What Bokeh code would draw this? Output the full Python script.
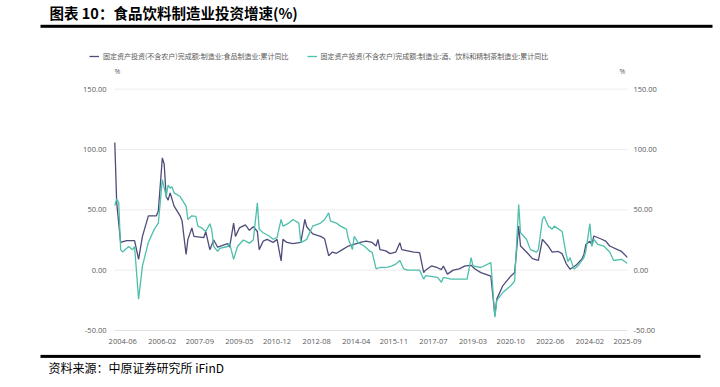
from datetime import datetime
from bokeh.plotting import figure
from bokeh.models import (Range1d, LinearAxis, NumeralTickFormatter, FixedTicker, Title,
                          DatetimeTickFormatter, Label, Legend, LegendItem, ColorBar,
                          LinearColorMapper)
from bokeh.embed import file_html
from bokeh.resources import INLINE

TITLE = "图表 10：食品饮料制造业投资增速(%)"
SOURCE = "资料来源：中原证券研究所 iFinD"
NAME_FOOD = "固定资产投资(不含农户)完成额:制造业:食品制造业:累计同比"
NAME_DRINK = "固定资产投资(不含农户)完成额:制造业:酒、饮料和精制茶制造业:累计同比"
UNIT = "%"

tick_labels = ["2004-06", "2006-02", "2007-09", "2009-05", "2010-12", "2012-08", "2014-04",
               "2015-11", "2017-07", "2019-03", "2020-10", "2022-06", "2024-02", "2025-09"]
y_ticks = [-50, 0, 50, 100, 150]

food_dates = ["2004-02", "2004-03", "2004-05", "2004-08", "2004-12", "2005-02", "2005-04", "2005-07",
              "2005-11", "2005-12", "2006-02", "2006-03", "2006-04", "2006-05", "2006-06", "2006-08",
              "2006-11", "2006-12", "2007-02", "2007-03", "2007-05", "2007-06", "2007-11", "2007-12",
              "2008-02", "2008-04", "2008-06", "2008-11", "2008-12", "2009-02", "2009-03", "2009-05",
              "2009-08", "2009-10", "2009-12", "2010-02", "2010-03", "2010-05", "2010-07", "2010-10",
              "2010-12", "2011-02", "2011-03", "2011-05", "2011-08", "2011-12", "2012-02", "2012-03",
              "2012-06", "2012-10", "2012-12", "2013-02", "2013-04", "2013-06", "2013-09", "2013-12",
              "2014-06", "2014-09", "2014-12", "2015-02", "2015-03", "2015-04", "2015-07", "2015-09",
              "2015-12", "2016-02", "2016-03", "2016-06", "2016-09", "2016-12", "2017-02", "2017-03",
              "2017-06", "2017-09", "2017-11", "2017-12", "2018-02", "2018-05", "2018-08", "2018-11",
              "2019-02", "2019-04", "2019-07", "2019-12", "2020-02", "2020-03", "2020-06", "2020-10",
              "2020-12", "2021-02", "2021-03", "2021-06", "2021-09", "2021-12", "2022-02", "2022-05",
              "2022-07", "2022-10", "2022-12", "2023-02", "2023-04", "2023-07", "2023-10", "2023-11",
              "2023-12", "2024-02", "2024-03", "2024-04", "2024-08", "2024-10", "2024-12", "2025-04",
              "2025-06", "2025-09"]
food_vals = [105.7, 56, 23, 24.5, 24.5, 9, 28, 45,
             45, 49, 93, 88, 61, 58, 64, 53,
             45, 41, 13, 25.5, 35, 28, 27, 32,
             17, 25, 19, 22, 19, 39, 28, 35,
             37.5, 33, 36, 32, 17, 24, 25.5, 23,
             25.5, 7.7, 25.5, 23, 22, 23, 42, 36,
             30, 28, 26, 12, 15, 14, 17, 20,
             23, 24, 23, 20, 25.5, 17, 16, 13.7,
             15, 22.8, 17, 16, 15, 14.5, -2, 0,
             3.5, 2, 0.5, 3.5, -3.3, 0, 1, 3.5,
             4, 1, -2, -5, -37.6, -24, -13, -5,
             -2, 36.5, 20, 15, 9.6, 8.2, 25.5, 20,
             15, 15.5, 13.7, 5.5, 0.8, 4, 9.3, 13,
             21.4, 24, 21, 28.3, 25.6, 24, 20, 17,
             15.5, 10.5]

drink_dates = ["2004-02", "2004-03", "2004-04", "2004-05", "2004-06", "2004-09", "2004-11", "2004-12",
               "2005-02", "2005-04", "2005-07", "2005-10", "2005-12", "2006-02", "2006-04", "2006-05",
               "2006-06", "2006-07", "2006-08", "2006-11", "2007-02", "2007-03", "2007-05", "2007-07",
               "2007-08", "2007-10", "2007-12", "2008-02", "2008-03", "2008-04", "2008-06", "2008-07",
               "2008-11", "2008-12", "2009-02", "2009-04", "2009-07", "2009-10", "2009-12", "2010-02",
               "2010-03", "2010-05", "2010-08", "2010-10", "2010-12", "2011-02", "2011-03", "2011-06",
               "2011-08", "2011-11", "2011-12", "2012-03", "2012-06", "2012-10", "2012-12", "2013-02",
               "2013-03", "2013-06", "2013-08", "2013-11", "2013-12", "2014-02", "2014-03", "2014-05",
               "2014-08", "2014-11", "2014-12", "2015-02", "2015-04", "2015-08", "2015-10", "2015-12",
               "2016-02", "2016-04", "2016-06", "2016-12", "2017-02", "2017-03", "2017-09", "2017-11",
               "2017-12", "2018-04", "2018-12", "2019-02", "2019-03", "2019-07", "2019-12", "2020-02",
               "2020-03", "2020-06", "2020-10", "2020-12", "2021-02", "2021-03", "2021-06", "2021-08",
               "2021-11", "2021-12", "2022-02", "2022-03", "2022-05", "2022-07", "2022-08", "2022-12",
               "2023-02", "2023-03", "2023-04", "2023-06", "2023-08", "2023-11", "2023-12", "2024-02",
               "2024-03", "2024-04", "2024-06", "2024-09", "2024-12", "2025-02", "2025-06", "2025-09"]
drink_vals = [53.6, 59, 56, 17, 15, 19.6, 17, 19.6,
              -24, 3.5, 23, 34, 39, 75, 61, 70.5,
              68, 69, 64, 61, 53, 42, 45, 44.6,
              36.5, 35, 32, 38.5, 33.5, 19.6, 15.5, 18,
              19.6, 22.4, 8.9, 19.6, 25, 22.4, 25, 55.8,
              34, 31, 28.3, 25.6, 27, 42, 36.5, 39,
              42, 39, 22.8, 25.5, 36.5, 39, 42, 47.5,
              40.7, 39, 36.5, 34, 26, 17, 28, 22.8,
              20, 15.5, 15, 1, 2.2, 2.5, 3.5, 5,
              8, 1, 0, 0, -7.4, -4.6, -6, -10,
              -6, -7.4, -7.4, 10.4, 3.5, 2.2, 6.3, -39,
              -25, -18.6, -13, -9, 54.4, 31, 25.6, 17,
              15, 17, 42, 44.5, 36.5, 34, 36.5, 32,
              13, 7, 10.4, 1, 3.5, 10.4, 16, 38.5,
              19.6, 25.6, 21.4, 20, 15, 8, 9, 5.5]

DARK = "#4e4c7b"
TEAL = "#4dbfab"
GRAY = "#595959"
GRID = "#ececec"
AXIS = "#c4c4c4"
EPOCH = datetime(1970, 1, 1)

# ---- layout (pixels in the 720x387 page) ----
W, H = 720, 387
FL, FR, FT, FB = 86, 627, 34, 332      # frame edges
P0 = 114.3                              # where the first month sits
PX_PER_UNIT = (FB - 89.0) / 200.0       # 150 sits at y=89, -50 at the frame bottom


def to_dt(s):
    return datetime.strptime(s, "%Y-%m")


def to_ms(s):
    return (to_dt(s) - EPOCH).total_seconds() * 1000.0


first_ms, last_ms = to_ms(food_dates[0]), to_ms(food_dates[-1])
ms_per_px = (last_ms - first_ms) / (FR - P0)
x_start = first_ms - (P0 - FL) * ms_per_px
y_top = y_ticks[0] + (FB - FT) / PX_PER_UNIT

p = figure(width=W, height=H, output_backend="svg", toolbar_location=None,
           x_axis_type="datetime",
           x_range=Range1d(x_start, last_ms), y_range=Range1d(y_ticks[0], y_top),
           min_border_left=FL, min_border_right=W - FR, min_border_top=FT,
           min_border_bottom=H - FB)
p.outline_line_color = None
p.xgrid.visible = False
p.ygrid.visible = False

# horizontal grid lines across the data span
n = len(y_ticks)
p.segment(x0=[to_dt(food_dates[0])] * n, x1=[to_dt(food_dates[-1])] * n,
          y0=y_ticks, y1=y_ticks,
          line_color=[AXIS] + [GRID] * (n - 1), line_width=1)

r_food = p.line([to_dt(s) for s in food_dates], food_vals, color=DARK, line_width=1.3)
r_drink = p.line([to_dt(s) for s in drink_dates], drink_vals, color=TEAL, line_width=1.3)

xa = p.xaxis[0]
xa.ticker = FixedTicker(ticks=[to_ms(s) for s in tick_labels])
fmt = "%Y-%m"
xa.formatter = DatetimeTickFormatter(milliseconds=fmt, seconds=fmt, minsec=fmt, minutes=fmt,
                                     hourmin=fmt, hours=fmt, days=fmt, months=fmt, years=fmt)
xa.axis_line_color = None
xa.major_tick_line_color = None
xa.minor_tick_line_color = None
xa.major_label_text_font = "Open Sans"
xa.major_label_text_font_size = "7.5px"
xa.major_label_text_color = GRAY
xa.major_label_standoff = 2

ya = p.yaxis[0]
ra = LinearAxis()
p.add_layout(ra, "right")
for ax in (ya, ra):
    ax.ticker = FixedTicker(ticks=y_ticks)
    ax.formatter = NumeralTickFormatter(format="0.00")
    ax.axis_line_color = None
    ax.major_tick_line_color = None
    ax.minor_tick_line_color = None
    ax.major_label_text_font = "Open Sans"
    ax.major_label_text_font_size = "7.5px"
    ax.major_label_text_color = GRAY
ya.major_label_standoff = -26
ra.major_label_standoff = 0

# unit labels (inside the frame, above the top grid line)
for ux in (117, 622):
    p.add_layout(Label(x=ux - FL, y=FB - 73, x_units="screen", y_units="screen", text=UNIT,
                       text_font="Open Sans", text_font_size="7px", text_color=GRAY,
                       text_baseline="middle", text_align="center"))

# legend (inside the frame)
legend = Legend(items=[LegendItem(label=NAME_FOOD, renderers=[r_food]),
                       LegendItem(label=NAME_DRINK, renderers=[r_drink])],
                orientation="horizontal", location=(89 - FL, FB - 63),
                glyph_width=10, glyph_height=10, label_height=10, label_standoff=4,
                spacing=18, padding=0, margin=0,
                label_text_font="Noto Sans CJK SC", label_text_font_size="7px",
                label_text_color=GRAY, border_line_color=None, background_fill_alpha=0)
p.add_layout(legend)


def rule_bar(width, x, y):
    return ColorBar(color_mapper=LinearColorMapper(palette=["black"], low=0, high=1),
                    orientation="horizontal", width=width, height=3, location=(x, y),
                    ticker=FixedTicker(ticks=[]), major_tick_line_color=None,
                    minor_tick_line_color=None, bar_line_color=None, border_line_color=None,
                    background_fill_alpha=0, padding=0, margin=0, label_standoff=0,
                    major_label_text_font_size="0px")


p.add_layout(rule_bar(672, 40 - FL, 6.7), "above")

p.title.text = TITLE
p.title.align = "left"
p.title.vertical_align = "middle"
p.title.offset = 49 - FL
p.title.standoff = 1
p.title.text_font = "Noto Sans CJK SC"
p.title.text_font_size = "14.5px"
p.title.text_font_style = "bold"
p.title.text_color = "black"

p.add_layout(rule_bar(660, 40 - FL, -11.4), "below")
p.add_layout(Title(text=SOURCE, align="left", vertical_align="middle", offset=48 - FL,
                   standoff=22, text_font="Noto Sans CJK SC", text_font_size="12px",
                   text_font_style="normal", text_color="black"), "below")

open("out.html", "w").write(file_html(p, INLINE))
